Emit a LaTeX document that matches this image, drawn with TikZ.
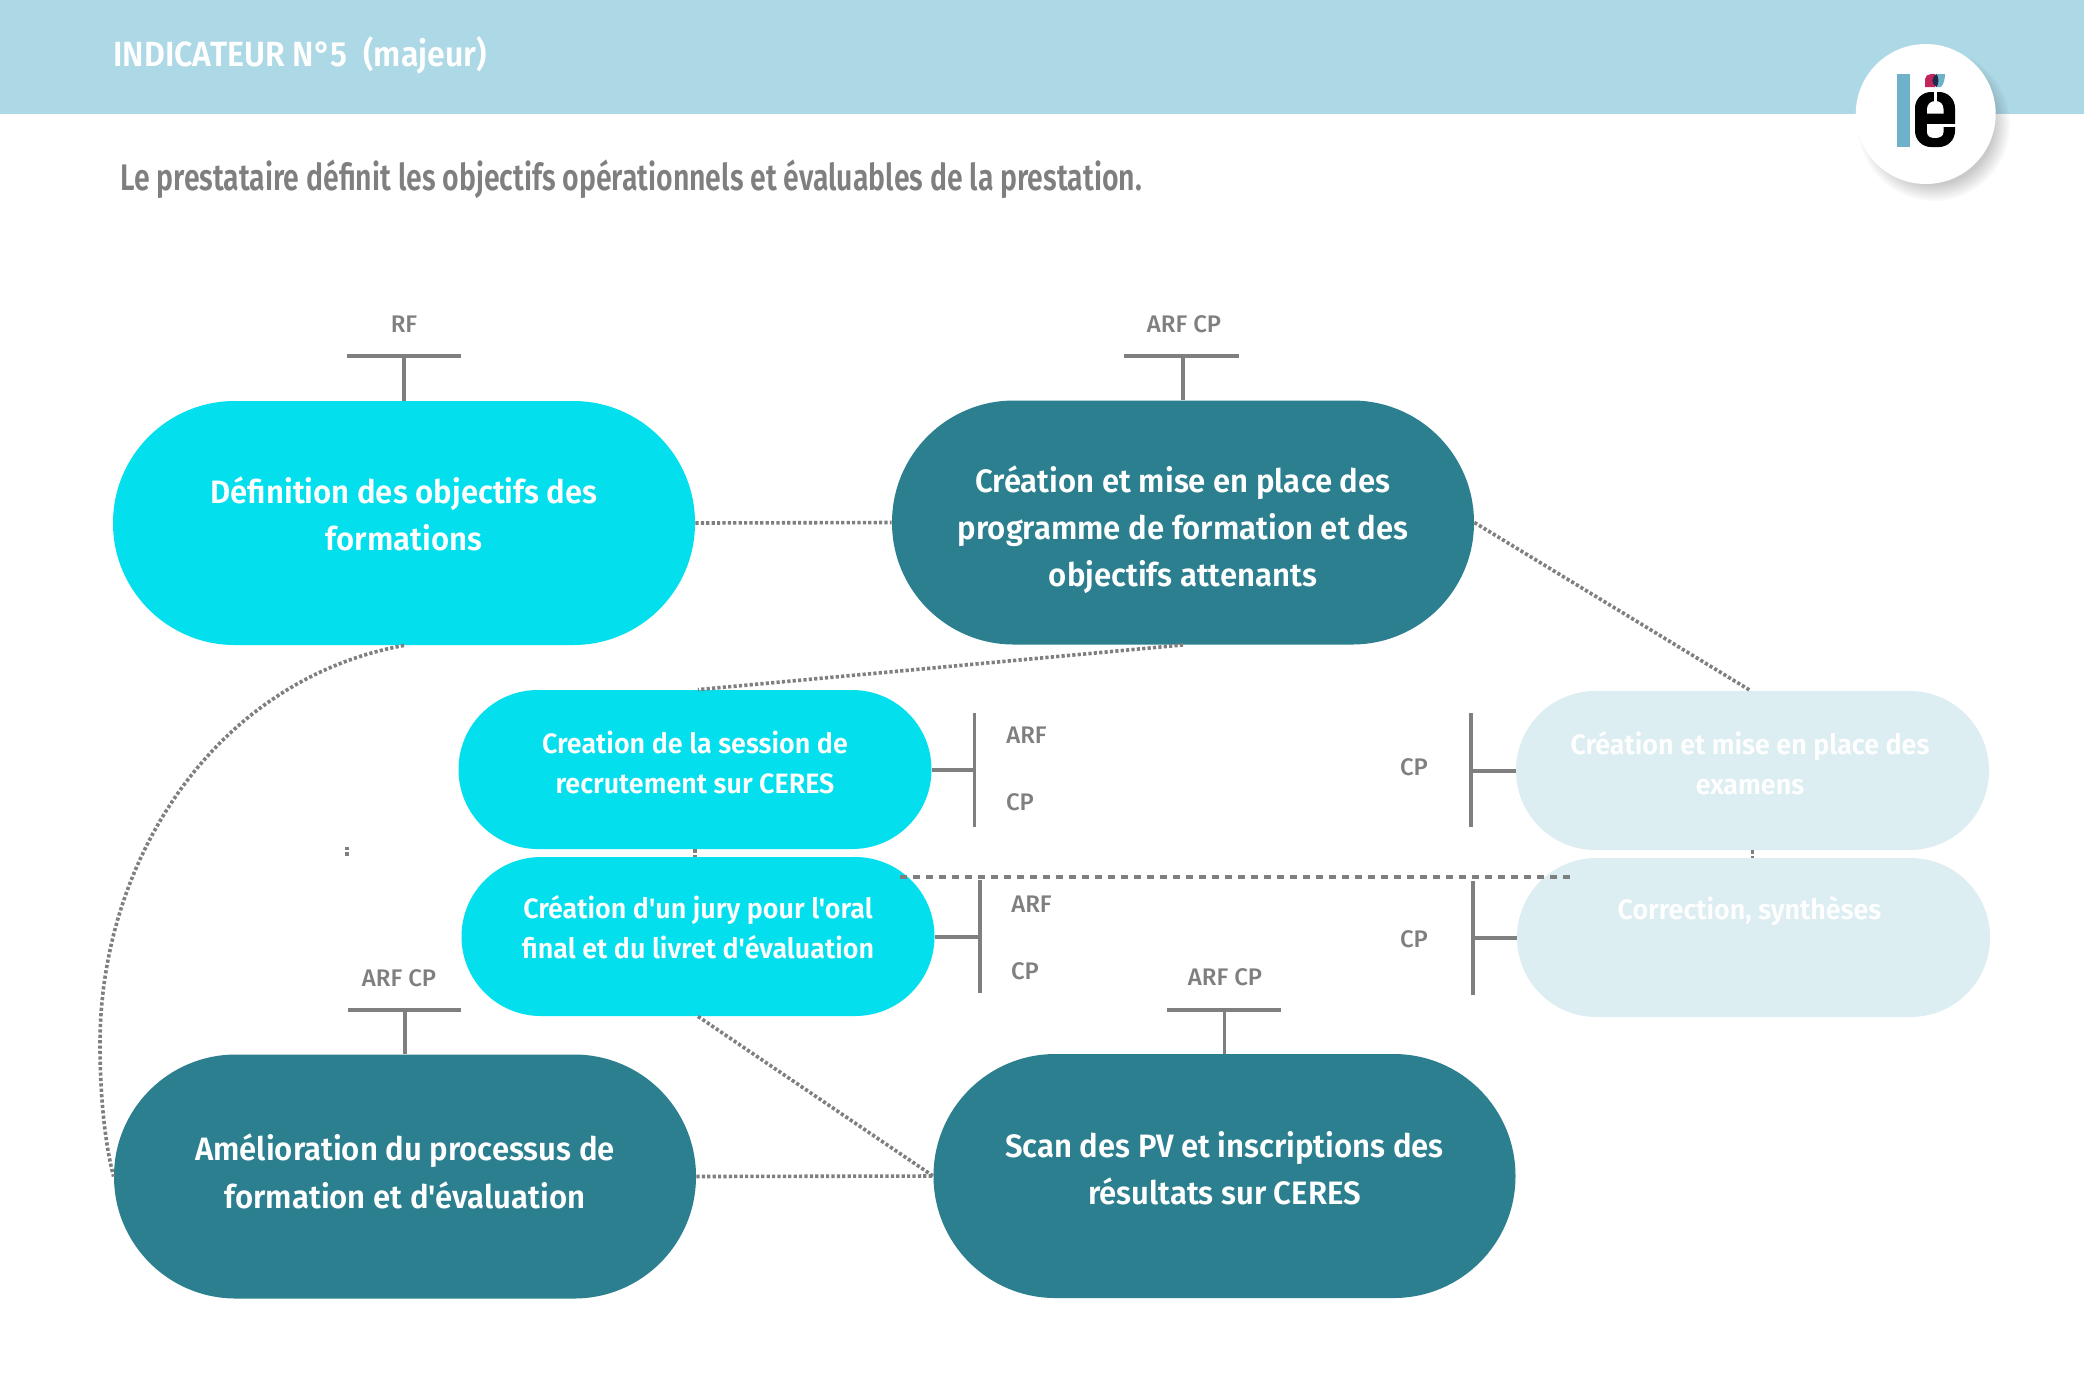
\documentclass[tikz,border=0pt]{standalone}
\usepackage{fontspec}
\setmainfont{Fira Sans}
\newfontfamily\pillfont[FakeStretch=.96]{Fira Sans SemiBold}
\newfontfamily\subfont[FakeStretch=.768]{Fira Sans SemiBold}
\newfontfamily\titlefont[FakeStretch=.917]{Fira Sans SemiBold}
\newfontfamily\tagfont[FakeStretch=1.0]{Fira Sans Medium}
\definecolor{headblue}{HTML}{ADD8E6}
\definecolor{cyanpill}{HTML}{04DFEE}
\definecolor{tealpill}{HTML}{2B7F8E}
\definecolor{palepill}{HTML}{DDEEF3}
\definecolor{linegray}{HTML}{7F7F7F}
\definecolor{logoblue}{HTML}{6FB1C9}
\definecolor{logored}{HTML}{C2255C}
\definecolor{logonavy}{HTML}{1F2A4D}
\newcommand{\pilltext}[2]{\smash{\raisebox{#1}{\begin{tabular}[t]{@{}c@{}}#2\end{tabular}}}}
\tikzset{
  bigpill/.style={inner sep=0pt,minimum width=291pt,minimum height=122pt,rounded corners=60.9pt,text=white,
    font=\pillfont\fontsize{16.2}{23.7}\selectfont},
  smallpill/.style={inner sep=0pt,minimum width=236.5pt,minimum height=79.5pt,rounded corners=39.7pt,text=white,
    font=\pillfont\fontsize{14}{20}\selectfont},
  dotline/.style={draw=linegray,line width=1.8pt,dash pattern=on 1.6pt off 1.1pt},
  dashline/.style={draw=linegray,line width=2pt,dash pattern=on 3.5pt off 3pt},
  barline/.style={draw=linegray,line width=1.6pt},
  stemline/.style={draw=linegray,line width=2pt},
  tagtext/.style={inner sep=0pt,text=linegray,font=\tagfont\fontsize{12}{14}\selectfont},
}
\begin{document}
\begin{tikzpicture}[x=0.5pt,y=-0.5pt]
\useasboundingbox (0,0) rectangle (2084,1389);
\fill[white] (0,0) rectangle (2084,1389);
\fill[headblue] (0,0) rectangle (2084,114);
\node[anchor=base west,inner sep=0pt,text=white,font=\titlefont\fontsize{17.5}{20}\selectfont] (title) at (113,66) {INDICATEUR N°5\ \ (majeur)};
\node[anchor=base west,inner sep=0pt,text=linegray,font=\subfont\fontsize{18.5}{22}\selectfont] (subtitle) at (120,190) {Le prestataire définit les objectifs opérationnels et évaluables de la prestation.};

% logo
\foreach \r in {76,74,...,60} {\fill[black,opacity=.025] (1934,125) circle[radius=\r];}
\fill[white] (1925.7,114) circle[radius=70];
\fill[logoblue] (1897,74) rectangle (1910,147);
\fill[logored] (1925,87) -- (1925,79) .. controls (1925,76) and (1928,74) .. (1931,74) -- (1935,74) -- (1935,87) -- cycle;
\fill[logoblue] (1937,87) -- (1941,87) .. controls (1944,84) and (1945,78) .. (1945,74) -- (1937,74) -- cycle;
\fill[logonavy] (1936.5,74) .. controls (1931,77) and (1931,84) .. (1936.5,87) .. controls (1939,84) and (1939,77) .. (1936.5,74) -- cycle;
\fill[black,rounded corners=8pt] (1915,92) rectangle (1955,147);
\fill[white] (1934,92) rectangle (1937,103);
\fill[white] (1927,113.5) -- (1927,109) .. controls (1927,104) and (1931,101) .. (1935.5,101) .. controls (1940,101) and (1943.5,104) .. (1943.5,109) -- (1943.5,113.5) -- cycle;
\fill[white] (1927,124) -- (1927,132) .. controls (1927,136) and (1930,138) .. (1935,138) .. controls (1940,138) and (1943.5,136) .. (1943.5,132) -- (1943.5,124) -- cycle;
\fill[white] (1943,124) rectangle (1956,127);

% pills
\node[bigpill,fill=cyanpill] (P1) at (404,523) {\pilltext{10pt}{Définition des objectifs des\\formations}};
\node[bigpill,fill=tealpill] (P2) at (1183,522.5) {\pilltext{15.2pt}{Création et mise en place des\\programme de formation et des\\objectifs attenants}};
\node[smallpill,fill=cyanpill] (P3) at (695,769.5) {\pilltext{8.2pt}{Creation de la session de\\recrutement sur CERES}};
\node[smallpill,fill=cyanpill] (P4) at (698,936.5) {\pilltext{9.2pt}{Création d'un jury pour l'oral\\final et du livret d'évaluation}};
\node[smallpill,fill=palepill] (P5) at (1752.5,770.5) {\kern-2.5pt\pilltext{7.8pt}{Création et mise en place des\\examens}};
\node[smallpill,fill=palepill] (P6) at (1753.5,937.5) {\kern-4pt\pilltext{9.2pt}{Correction, synthèses}};
\node[bigpill,fill=tealpill] (P7) at (405,1176.5) {\pilltext{7.8pt}{Amélioration du processus de\\formation et d'évaluation}};
\node[bigpill,fill=tealpill] (P8) at (1224.5,1176) {\pilltext{9.5pt}{Scan des PV et inscriptions des\\résultats sur CERES}};

% dotted connectors
\draw[dotline] (P1.east) -- (P2.west);
\draw[dotline] ([xshift=0pt]P2.south) -- ([xshift=1.5pt]P3.north);
\draw[dotline] (P2.east) -- ([xshift=-1pt]P5.north);
\draw[dotline] (P3.south) -- (P3.south |- P4.north);
\draw[dotline] (P5.south) -- (P5.south |- P6.north);
\draw[dotline] (P4.south) -- (P8.west);
\draw[dotline] (P7.east) -- (P8.west);
\coordinate (cm) at (100,1044);
\draw[dotline] (P1.south) .. controls (215,680) and (100,860) .. (cm) .. controls (100,1090) and (104,1140) .. (P7.west);
\coordinate (dota) at (347,847);
\coordinate (dotb) at (347,856);
\draw[dotline] (dota) -- (dotb);
\coordinate (dasha) at (900,877);
\coordinate (dashb) at (1570,877);
\draw[dashline] (dasha) -- (dashb);

% T brackets above
\coordinate (t1) at (404,356); \coordinate (t1a) at (347,356); \coordinate (t1b) at (461,356);
\draw[stemline,line width=1.8pt] (P1.north) -- (t1); \draw[stemline] (t1a) -- (t1b);
\node[tagtext] (l1) at (404,324) {RF};
\coordinate (t2) at (1183,356); \coordinate (t2a) at (1124,356); \coordinate (t2b) at (1239,356);
\draw[stemline,line width=1.8pt] (P2.north) -- (t2); \draw[stemline] (t2a) -- (t2b);
\node[tagtext] (l2) at (1184,324) {ARF CP};
\coordinate (t7) at (405,1010); \coordinate (t7a) at (348,1010); \coordinate (t7b) at (461,1010);
\draw[stemline,line width=1.8pt] (P7.north) -- (t7); \draw[stemline] (t7a) -- (t7b);
\node[tagtext] (l7) at (399,978) {ARF CP};
\coordinate (t8) at (1224.5,1010); \coordinate (t8a) at (1167,1010); \coordinate (t8b) at (1281,1010);
\draw[stemline,line width=1.8pt] (P8.north) -- (t8); \draw[stemline] (t8a) -- (t8b);
\node[tagtext] (l8) at (1225,977) {ARF CP};

% side brackets
\coordinate (s3) at (974.5,769.5); \coordinate (s3a) at (974.5,713); \coordinate (s3b) at (974.5,827);
\draw[stemline] (P3.east) -- (s3); \draw[barline] (s3a) -- (s3b);
\node[tagtext] (l3a) at (1026.5,735) {ARF};
\node[tagtext] (l3b) at (1020,802) {CP};
\coordinate (s4) at (980,936.5); \coordinate (s4a) at (980,880); \coordinate (s4b) at (980,993);
\draw[stemline] (P4.east) -- (s4); \draw[barline] (s4a) -- (s4b);
\node[tagtext] (l4a) at (1031.5,904) {ARF};
\node[tagtext] (l4b) at (1025,971) {CP};
\coordinate (s5) at (1471,770.5); \coordinate (s5a) at (1471,713); \coordinate (s5b) at (1471,827);
\draw[stemline] (P5.west) -- (s5); \draw[barline] (s5a) -- (s5b);
\node[tagtext] (l5) at (1414,767) {CP};
\coordinate (s6) at (1473,937.5); \coordinate (s6a) at (1473,881); \coordinate (s6b) at (1473,995);
\draw[stemline] (P6.west) -- (s6); \draw[barline] (s6a) -- (s6b);
\node[tagtext] (l6) at (1414,939) {CP};
\end{tikzpicture}
\end{document}
